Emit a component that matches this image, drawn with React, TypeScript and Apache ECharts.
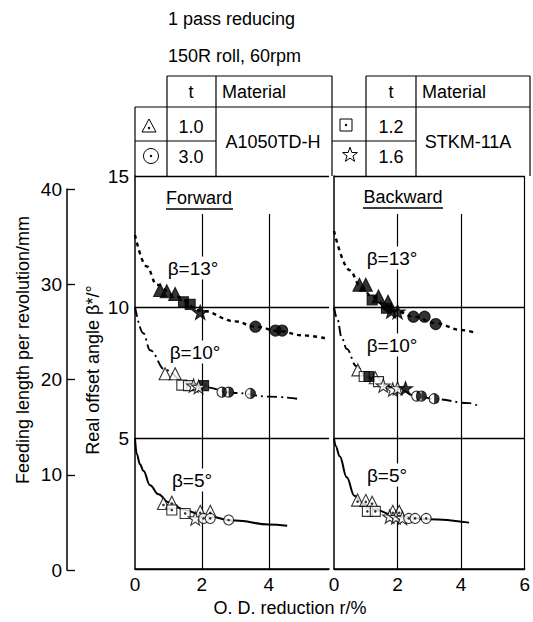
import React, { useEffect, useRef } from "react";
import * as echarts from "echarts";

const FONT = '"Liberation Sans", Arial, Helvetica, sans-serif';

// ---------- tick labels ----------
const feedTicks = [0, 10, 20, 30, 40];
const xTicksFwd = [0, 2, 4];
const xTicksBwd = [0, 2, 4, 6];

// ---------- Forward (left panel) ----------
const fwdCurve13 = [[0, 12.75], [0.35, 11.55], [0.65, 10.85], [1.2, 10.4], [2, 9.85], [3, 9.45], [3.6, 9.25], [4.3, 9.08], [5, 8.92], [5.7, 8.8]];
const fwdCurve10 = [[0, 10], [0.25, 9.0], [0.45, 8.35], [0.9, 7.6], [1.5, 7.12], [2, 6.95], [3, 6.72], [4, 6.58], [4.85, 6.5]];
const fwdCurve5 = [[0, 5], [0.05, 4.4], [0.15, 4.0], [0.25, 3.75], [0.45, 3.2], [0.7, 2.85], [1, 2.55], [1.5, 2.25], [2, 2.05], [3, 1.85], [4, 1.7], [4.55, 1.65]];

const fwd13Tri = [[0.75, 10.65], [0.95, 10.6], [1.2, 10.5]];
const fwd13Sq = [[1.45, 10.2], [1.65, 10.1]];
const fwd13Star = [[1.95, 9.8]];
const fwd13Circ = [[3.6, 9.25], [4.2, 9.1], [4.4, 9.1]];

const fwd10Tri = [[0.9, 7.45], [1.2, 7.45]];
const fwd10SqOpen = [[1.4, 7.02], [1.6, 7.0]];
const fwd10SqFill = [[2.05, 7.0]];
const fwd10Star = [[1.75, 7.0], [1.9, 6.95]];
const fwd10StarFill: number[][] = [];
const fwd10Circ = [[2.6, 6.75], [2.8, 6.75], [3.45, 6.7]];

const fwd5Tri = [[0.85, 2.5], [1.1, 2.55], [1.95, 2.2], [2.25, 2.2]];
const fwd5Sq = [[1.1, 2.25], [1.5, 2.12]];
const fwd5Star = [[1.8, 1.93]];
const fwd5Circ = [[2.05, 1.93], [2.25, 1.93], [2.8, 1.87]];

// ---------- Backward (right panel) ----------
const bwdCurve13 = [[0, 12.9], [0.5, 11.4], [0.8, 10.85], [1.2, 10.4], [1.6, 10.05], [2, 9.82], [2.5, 9.63], [3.2, 9.38], [4, 9.12], [4.5, 9.0]];
const bwdCurve10 = [[0, 10], [0.1, 9.55], [0.25, 8.8], [0.4, 8.4], [0.7, 7.75], [1.0, 7.35], [1.5, 7.05], [2, 6.88], [2.6, 6.6], [3.2, 6.48], [4.25, 6.33], [4.5, 6.25]];
const bwdCurve5 = [[0, 5], [0.05, 4.7], [0.18, 4.3], [0.4, 3.5], [0.64, 2.8], [0.9, 2.5], [1.3, 2.25], [2, 2.0], [3, 1.9], [4.25, 1.77]];

const bwd13Tri = [[0.8, 10.85], [1.0, 10.85], [1.4, 10.4], [1.7, 10.2]];
const bwd13Sq = [[1.2, 10.27], [1.65, 9.95]];
const bwd13Star = [[1.8, 9.85], [2.0, 9.82]];
const bwd13Circ = [[2.5, 9.63], [2.85, 9.63], [3.2, 9.35]];

const bwd10Tri = [[0.75, 7.6], [1.3, 7.3]];
const bwd10SqOpen = [[0.95, 7.35], [1.4, 7.15]];
const bwd10SqFill = [[1.1, 7.35]];
const bwd10Star = [[1.55, 7.0], [1.85, 6.85], [2.0, 6.9]];
const bwd10StarFill = [[2.25, 6.9]];
const bwd10Circ = [[2.6, 6.6], [2.75, 6.6], [3.15, 6.5]];

const bwd5Tri = [[0.74, 2.63], [1.0, 2.62], [1.2, 2.55], [1.85, 2.2], [2.05, 2.2]];
const bwd5Sq = [[1.05, 2.2], [1.3, 2.2]];
const bwd5Star = [[1.75, 2.0], [1.95, 1.98], [2.15, 1.95]];
const bwd5Circ = [[2.35, 1.93], [2.55, 1.93], [2.9, 1.93]];

// ---------- symbols ----------
const STAR = "path://M0,-10L2.35,-3.24L9.51,-3.09L3.8,1.24L5.88,8.09L0,4L-5.88,8.09L-3.8,1.24L-9.51,-3.09L-2.35,-3.24Z";
const HALF = "path://M0,0A10,10 0 0,1 0,20Z";
const STAR_PTS = [[0, -10], [2.35, -3.24], [9.51, -3.09], [3.8, 1.24], [5.88, 8.09], [0, 4], [-5.88, 8.09], [-3.8, 1.24], [-9.51, -3.09], [-2.35, -3.24]];

function scatter(g: number, data: number[][], symbol: string, size: any, filled: boolean, z = 5): any {
  return {
    type: "scatter", xAxisIndex: g, yAxisIndex: g, data, symbol, symbolSize: size, symbolKeepAspect: true,
    itemStyle: { color: filled ? "#000" : "#fff", borderColor: "#000", borderWidth: 1.1 }, z, silent: true,
  };
}
function dots(g: number, data: number[][], dy = 0): any {
  return {
    type: "scatter", xAxisIndex: g, yAxisIndex: g, data, symbol: "circle", symbolSize: 2.6, symbolOffset: [0, dy],
    itemStyle: { color: "#000" }, z: 7, silent: true,
  };
}
function halves(g: number, data: number[][], size: number): any {
  return {
    type: "scatter", xAxisIndex: g, yAxisIndex: g, data, symbol: HALF, symbolSize: [size / 2, size],
    symbolOffset: [size / 4, 0], itemStyle: { color: "#000" }, z: 7, silent: true,
  };
}
function curve(g: number, data: number[][], type: any, width: number, extra: any = {}): any {
  return {
    type: "line", xAxisIndex: g, yAxisIndex: g, data, smooth: 0.4, smoothMonotone: "x", showSymbol: false,
    symbol: "none", lineStyle: { color: "#000", width, type }, z: 3, silent: true, ...extra,
  };
}
function vlines(xs: number[], top: number, extra: number[][] = []): any {
  const d: any[] = xs.map((x) => [{ coord: [x, 0] }, { coord: [x, top] }]);
  extra.forEach((e) => d.push([{ coord: [e[0], 0] }, { coord: [e[0], e[1]] }]));
  return {
    symbol: ["none", "none"], silent: true, label: { show: false },
    lineStyle: { color: "#000", width: 1.2, type: "solid" }, data: d,
  };
}

function panelSeries(g: number, c13: number[][], c10: number[][], c5: number[][], s: any, markLine: any): any[] {
  return [
    curve(g, c13, [4, 4], 2.4, { markLine }),
    curve(g, c10, [10, 4, 2, 4], 1.9),
    curve(g, c5, "solid", 2),
    scatter(g, s.t13, "triangle", 13, true),
    scatter(g, s.q13, "rect", 10, true),
    scatter(g, s.s13, STAR, 15, true),
    scatter(g, s.c13, "circle", 11, true),
    scatter(g, s.t10, "triangle", 12, false),
    scatter(g, s.q10o, "rect", 10, false),
    scatter(g, s.q10f, "rect", 10, true),
    scatter(g, s.s10, STAR, 14, false),
    scatter(g, s.s10f, STAR, 14, true),
    scatter(g, s.c10, "circle", 10, false),
    halves(g, s.c10, 10),
    scatter(g, s.t5, "triangle", 12, false),
    dots(g, s.t5, 1.5),
    scatter(g, s.q5, "rect", 10, false),
    dots(g, s.q5),
    scatter(g, s.s5, STAR, 14, false),
    scatter(g, s.c5, "circle", 10, false),
    dots(g, s.c5),
  ];
}

function txt(x: number, y: number, text: string, align = "center", size = 18, extra: any = {}): any {
  return {
    type: "text", x, y, z: 100, silent: true,
    style: { text, x: 0, y: 0, fill: "#000", font: `${size}px ${FONT}`, align, verticalAlign: "middle", ...extra },
  };
}
function ln(x1: number, y1: number, x2: number, y2: number, w = 1.2): any {
  return { type: "line", z: 100, silent: true, shape: { x1, y1, x2, y2 }, style: { stroke: "#000", lineWidth: w } };
}

export default function App() {
  const ref = useRef<HTMLDivElement>(null);
  useEffect(() => {
    if (!ref.current) return;
    const chart = echarts.init(ref.current, undefined, { renderer: "svg" });

    const axisLine = { show: true, lineStyle: { color: "#000", width: 1.5 } };
    const labelStyle = { color: "#000", fontSize: 19, fontFamily: FONT };

    const starPoly = (cx: number, cy: number, s: number) => STAR_PTS.map((p) => [cx + p[0] * s, cy + p[1] * s]);

    const graphic: any[] = [
      txt(168, 19, "1 pass reducing", "left"),
      txt(168, 56, "150R roll, 60rpm", "left"),
      // left table
      ln(167, 76, 332, 76), ln(135, 107, 332, 107), ln(135, 141, 216, 141),
      ln(135, 107, 135, 176), ln(167, 76, 167, 176), ln(216, 76, 216, 176), ln(332, 76, 332, 176),
      // right table
      ln(366, 76, 530, 76), ln(332, 107, 530, 107), ln(332, 141, 416, 141),
      ln(366, 76, 366, 176), ln(416, 76, 416, 176), ln(530, 76, 530, 176),
      txt(191, 92, "t"), txt(222, 92, "Material", "left"),
      txt(391, 92, "t"), txt(422, 92, "Material", "left"),
      txt(191, 127, "1.0"), txt(191, 157, "3.0"),
      txt(391, 127, "1.2"), txt(391, 157, "1.6"),
      txt(273, 142, "A1050TD-H"), txt(468, 142, "STKM-11A"),
      { type: "polygon", z: 100, shape: { points: [[149, 119], [142, 132], [156, 132]] }, style: { fill: "#fff", stroke: "#000", lineWidth: 1 } },
      { type: "circle", z: 101, shape: { cx: 149, cy: 128, r: 1.2 }, style: { fill: "#000" } },
      { type: "circle", z: 100, shape: { cx: 151, cy: 156, r: 7.5 }, style: { fill: "#fff", stroke: "#000", lineWidth: 1 } },
      { type: "circle", z: 101, shape: { cx: 151, cy: 156, r: 1.2 }, style: { fill: "#000" } },
      { type: "rect", z: 100, shape: { x: 340, y: 119, width: 12, height: 12 }, style: { fill: "#fff", stroke: "#000", lineWidth: 1 } },
      { type: "circle", z: 101, shape: { cx: 346, cy: 125, r: 1.2 }, style: { fill: "#000" } },
      { type: "polygon", z: 100, shape: { points: starPoly(350, 155, 0.78) }, style: { fill: "#fff", stroke: "#000", lineWidth: 1 } },
      // headers
      txt(199, 198, "Forward", "center"), ln(166, 209, 233, 209, 1.4),
      txt(403, 197, "Backward", "center"), ln(363, 208, 443, 208, 1.4),
      // beta labels
      txt(193, 268, "β=13°", "center", 19, { backgroundColor: "#fff", padding: [2, 1] }),
      txt(195, 352, "β=10°", "center", 19, { backgroundColor: "#fff", padding: [2, 1] }),
      txt(192, 480, "β=5°", "center", 19, { backgroundColor: "#fff", padding: [2, 1] }),
      txt(392, 258, "β=13°", "center", 19, { backgroundColor: "#fff", padding: [2, 1] }),
      txt(392, 345, "β=10°", "center", 19, { backgroundColor: "#fff", padding: [2, 1] }),
      txt(387, 475, "β=5°", "center", 19, { backgroundColor: "#fff", padding: [2, 1] }),
      // axis names
      txt(290, 608, "O. D. reduction r/%", "center"),
      { ...txt(0, 0, "Real offset angle β*/°", "center"), x: 93, y: 370, rotation: Math.PI / 2 },
      { ...txt(0, 0, "Feeding length per revolution/mm", "center"), x: 23, y: 350, rotation: Math.PI / 2 },
    ];

    const fwdSets = {
      t13: fwd13Tri, q13: fwd13Sq, s13: fwd13Star, c13: fwd13Circ,
      t10: fwd10Tri, q10o: fwd10SqOpen, q10f: fwd10SqFill, s10: fwd10Star, s10f: fwd10StarFill, c10: fwd10Circ,
      t5: fwd5Tri, q5: fwd5Sq, s5: fwd5Star, c5: fwd5Circ,
    };
    const bwdSets = {
      t13: bwd13Tri, q13: bwd13Sq, s13: bwd13Star, c13: bwd13Circ,
      t10: bwd10Tri, q10o: bwd10SqOpen, q10f: bwd10SqFill, s10: bwd10Star, s10f: bwd10StarFill, c10: bwd10Circ,
      t5: bwd5Tri, q5: bwd5Sq, s5: bwd5Star, c5: bwd5Circ,
    };

    const option: any = {
      animation: false,
      backgroundColor: "#fff",
      grid: [
        { left: 135, top: 176, width: 194, height: 393 },
        { left: 334, top: 176, width: 197, height: 393 },
        { left: 67, top: 189, width: 1, height: 381 },
      ],
      xAxis: [
        {
          gridIndex: 0, type: "value", min: 0, max: 5.8, interval: 2, axisLine, axisTick: { show: false }, splitLine: { show: false },
          axisLabel: { ...labelStyle, margin: 6, formatter: (v: number) => (xTicksFwd.includes(v) ? String(v) : "") },
        },
        {
          gridIndex: 1, type: "value", min: 0, max: 6, interval: 2, axisLine, axisTick: { show: false }, splitLine: { show: false },
          axisLabel: { ...labelStyle, margin: 6, formatter: (v: number) => (xTicksBwd.includes(v) ? String(v) : "") },
        },
        { gridIndex: 2, type: "value", show: false, min: 0, max: 1 },
      ],
      yAxis: [
        {
          gridIndex: 0, type: "value", min: 0, max: 15, interval: 5, axisLine, axisTick: { show: false },
          splitLine: { show: true, lineStyle: { color: "#000", width: 1.3 } },
          axisLabel: { ...labelStyle, margin: 6, showMinLabel: false },
        },
        {
          gridIndex: 1, type: "value", min: 0, max: 15, interval: 5, axisLine, axisTick: { show: false },
          splitLine: { show: true, lineStyle: { color: "#000", width: 1.3 } },
          axisLabel: { show: false },
        },
        {
          gridIndex: 2, type: "value", min: 0, max: 40, interval: 10, axisLine,
          axisTick: { show: true, inside: true, length: 8, lineStyle: { color: "#000", width: 1.3 } },
          splitLine: { show: false },
          axisLabel: { ...labelStyle, margin: 5, formatter: (v: number) => (feedTicks.includes(v) ? String(v) : "") },
        },
      ],
      series: [
        ...panelSeries(0, fwdCurve13, fwdCurve10, fwdCurve5, fwdSets, vlines([2, 4], 13.55)),
        ...panelSeries(1, bwdCurve13, bwdCurve10, bwdCurve5, bwdSets, vlines([2, 4], 13.55, [[6, 15]])),
        { type: "scatter", xAxisIndex: 2, yAxisIndex: 2, data: [], silent: true },
      ],
      graphic,
    };
    chart.setOption(option);
    return () => chart.dispose();
  }, []);
  return <div ref={ref} style={{ position: "fixed", left: 0, top: 0, width: 533, height: 622, background: "#fff" }} />;
}
